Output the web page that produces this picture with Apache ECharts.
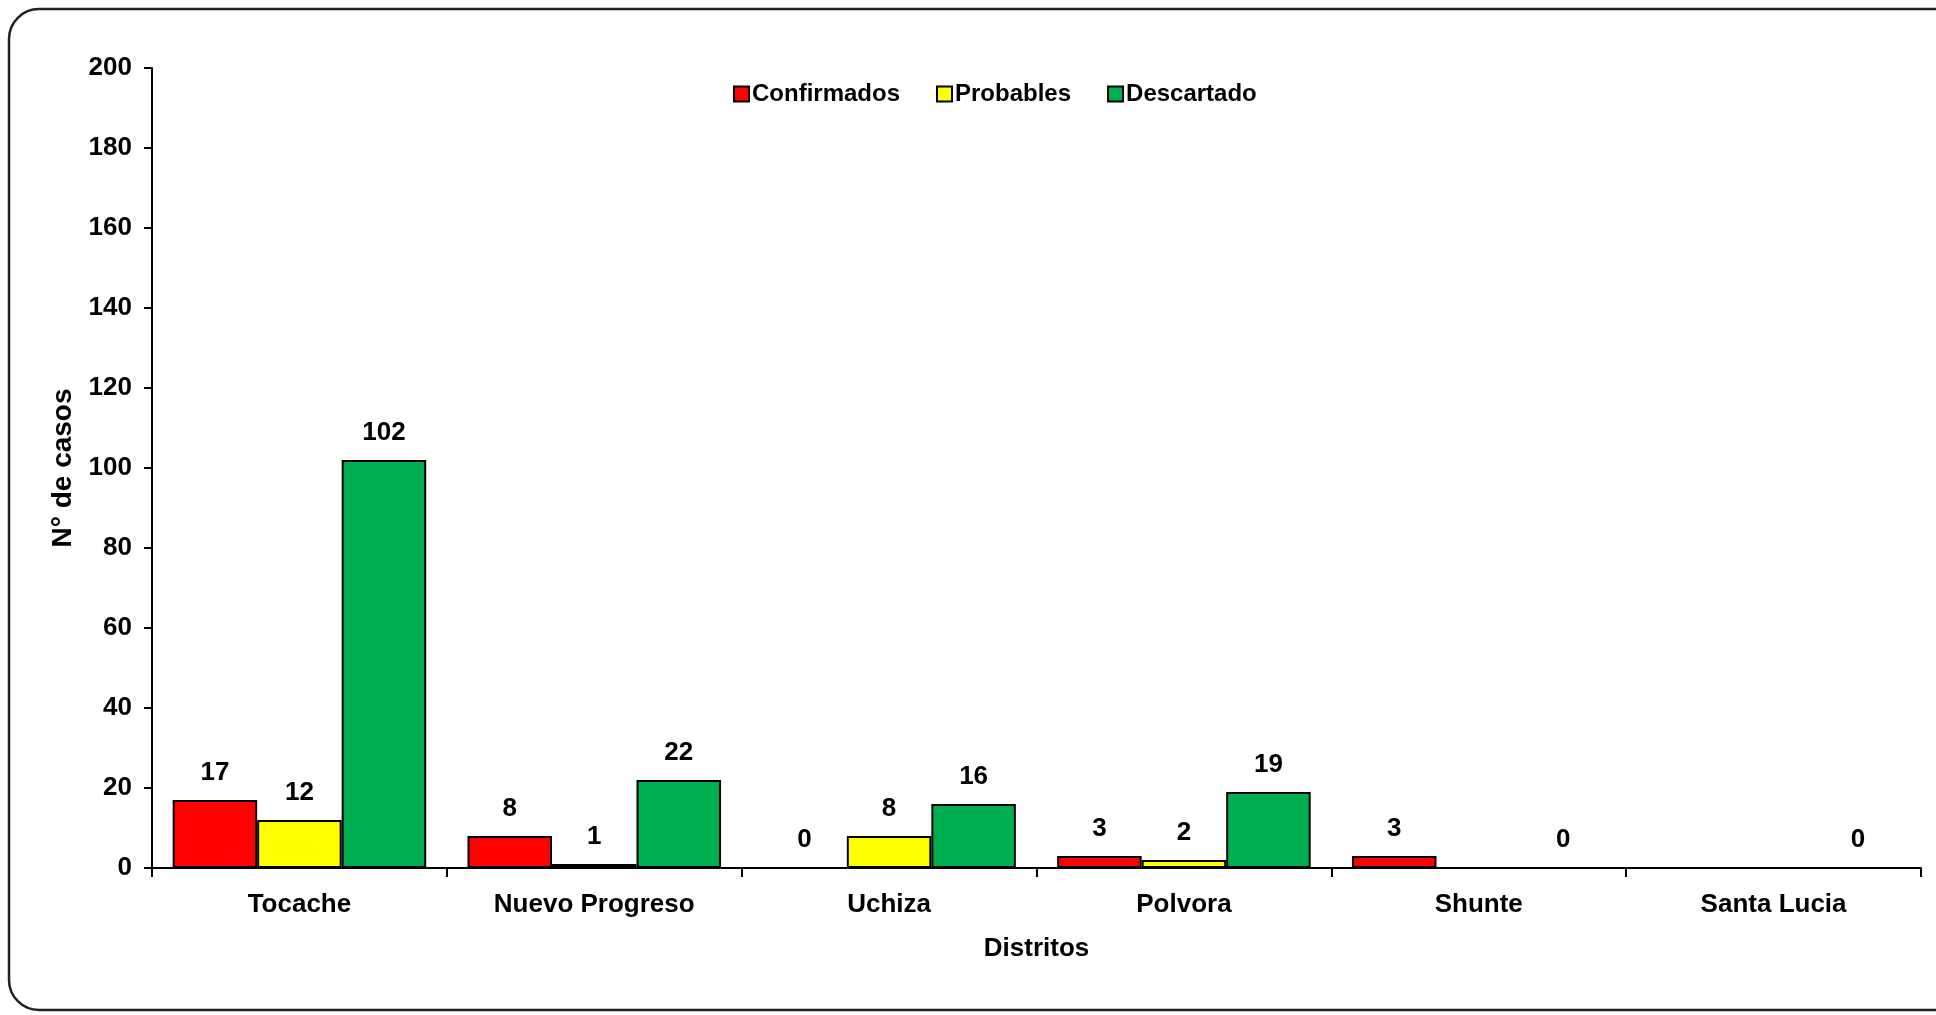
<!DOCTYPE html>
<html>
<head>
<meta charset="utf-8">
<script src="https://cdn.jsdelivr.net/npm/echarts@6/dist/echarts.min.js"></script>
<style>
html,body{margin:0;padding:0;background:#fff;}
#chart{width:1936px;height:1015px;}
</style>
</head>
<body>
<div id="chart"></div>
<script>
const categories = ['Tocache', 'Nuevo Progreso', 'Uchiza', 'Polvora', 'Shunte', 'Santa Lucia'];
const confirmados = [17, 8, 0, 3, 3, null];
const probables = [12, 1, 8, 2, null, null];
const descartado = [102, 22, 16, 19, 0, 0];
const yTicks = { min: 0, max: 200, interval: 20 };
const seriesNames = ['Confirmados', 'Probables', 'Descartado'];
const seriesColors = ['#FF0000', '#FFFF00', '#00B050'];

const FONT = '"Liberation Sans", Arial, sans-serif';
const chart = echarts.init(document.getElementById('chart'));

function mkSeries(name, data, color) {
  return {
    name: name,
    type: 'bar',
    data: data,
    barGap: '0%',
    barCategoryGap: '14%',
    itemStyle: { color: color, borderColor: '#000', borderWidth: 2 },
    label: {
      show: true, position: 'top', distance: 14,
      color: '#000', fontFamily: FONT, fontWeight: 'bold', fontSize: 26
    }
  };
}

chart.setOption({
  animation: false,
  backgroundColor: '#fff',
  graphic: [{
    type: 'rect',
    shape: { x: 9, y: 9, width: 1990, height: 1001, r: 30 },
    style: { fill: 'none', stroke: '#222', lineWidth: 2.5 },
    silent: true, z: -1
  }],
  legend: {
    top: 77, left: 728,
    itemWidth: 15, itemHeight: 15, itemGap: 36,
    icon: 'rect',
    textStyle: { fontFamily: FONT, fontWeight: 'bold', fontSize: 24, color: '#000', padding: [0, 0, 0, -2] },
    data: seriesNames
  },
  grid: { left: 152, right: 15, top: 68, bottom: 147, containLabel: false },
  xAxis: {
    type: 'category',
    data: categories,
    name: 'Distritos',
    nameLocation: 'middle',
    nameGap: 68,
    nameTextStyle: { fontFamily: FONT, fontWeight: 'bold', fontSize: 26, color: '#000' },
    axisLine: { lineStyle: { color: '#000', width: 2 } },
    axisTick: { show: true, length: 9, lineStyle: { color: '#000', width: 2 } },
    axisLabel: { margin: 24, fontFamily: FONT, fontWeight: 'bold', fontSize: 26, color: '#000' }
  },
  yAxis: {
    type: 'value',
    min: yTicks.min, max: yTicks.max, interval: yTicks.interval,
    name: 'N° de casos',
    nameLocation: 'middle',
    nameGap: 75,
    nameRotate: 90,
    nameTextStyle: { fontFamily: FONT, fontWeight: 'bold', fontSize: 28, color: '#000' },
    axisLine: { show: true, lineStyle: { color: '#000', width: 2 } },
    axisTick: { show: true, length: 8, lineStyle: { color: '#000', width: 2 } },
    splitLine: { show: false },
    axisLabel: { margin: 20, fontFamily: FONT, fontWeight: 'bold', fontSize: 26, color: '#000' }
  },
  series: [
    mkSeries(seriesNames[0], confirmados, seriesColors[0]),
    mkSeries(seriesNames[1], probables, seriesColors[1]),
    mkSeries(seriesNames[2], descartado, seriesColors[2])
  ]
});
</script>
</body>
</html>
